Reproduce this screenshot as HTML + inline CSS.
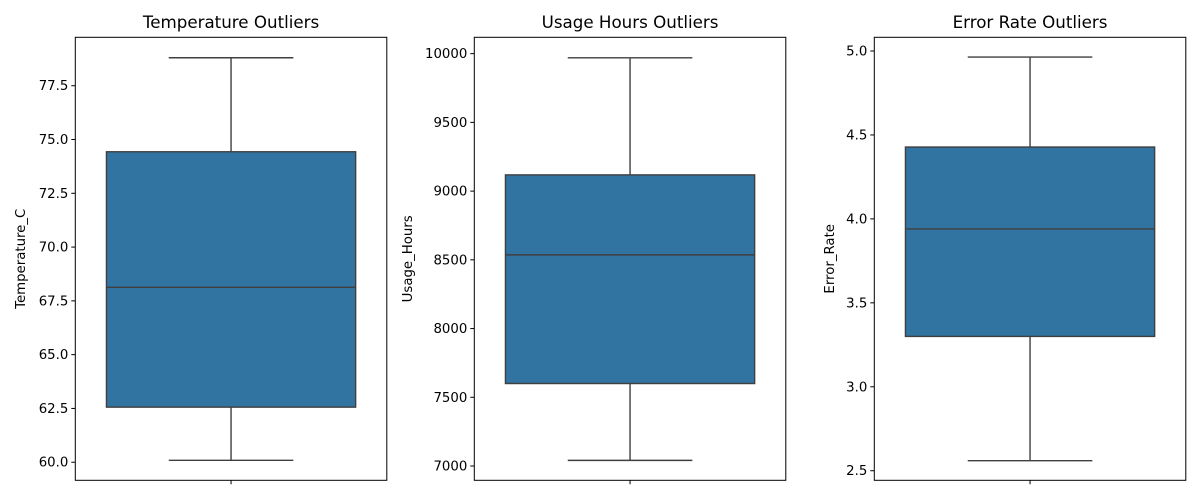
<!DOCTYPE html>
<html><head><meta charset="utf-8"><style>
body{margin:0;background:#fff;}
svg{display:block;font-family:"DejaVu Sans","Liberation Sans",sans-serif;}
</style></head><body>
<svg id="chart" width="1200" height="500"></svg>
<script>
const panelTitles = ["Temperature Outliers", "Usage Hours Outliers", "Error Rate Outliers"];
const yLabels = ["Temperature_C", "Usage_Hours", "Error_Rate"];
const whiskerLow = [60.09, 7041, 2.56];
const q1Values = [62.56, 7600, 3.30];
const medianValues = [68.13, 8536, 3.94];
const q3Values = [74.43, 9118, 4.428];
const whiskerHigh = [78.80, 9970, 4.964];
const yMins = [59.16, 6896, 2.443];
const yMaxs = [79.75, 10119, 5.0816];
const tickSets = [[60,62.5,65,67.5,70,72.5,75,77.5],[7000,7500,8000,8500,9000,9500,10000],[2.5,3.0,3.5,4.0,4.5,5.0]];
const tickLabelSets = [["60.0","62.5","65.0","67.5","70.0","72.5","75.0","77.5"],["7000","7500","8000","8500","9000","9500","10000"],["2.5","3.0","3.5","4.0","4.5","5.0"]];

const svg = document.getElementById('chart');
const NS = 'http://www.w3.org/2000/svg';
const lefts = [75.3, 474.3, 874.3];
const W = 311.5, TOP = 37.3, BOT = 480.3;
function mk(tag, attrs, parent){const e=document.createElementNS(NS,tag);for(const k in attrs)e.setAttribute(k,attrs[k]);(parent||svg).appendChild(e);return e;}

for(let p=0;p<3;p++){
  const L=lefts[p], R=L+W;
  const y=v=>BOT-(v-yMins[p])/(yMaxs[p]-yMins[p])*(BOT-TOP);
  const g=mk('g',{});
  
  
  const cx=(L+R)/2, bw=W*0.8, ww=bw/2;
  const w1=mk('line',{x1:cx,x2:cx,y1:y(whiskerHigh[p]),y2:y(q3Values[p]),stroke:'#3f3f3f','stroke-width':1.4},g);
  
  
  const w2=mk('line',{x1:cx,x2:cx,y1:y(q1Values[p]),y2:y(whiskerLow[p]),stroke:'#3f3f3f','stroke-width':1.4},g);
  
  
  const c1=mk('line',{x1:cx-ww/2,x2:cx+ww/2,y1:y(whiskerHigh[p]),y2:y(whiskerHigh[p]),stroke:'#3f3f3f','stroke-width':1.4},g);
  
  
  const c2=mk('line',{x1:cx-ww/2,x2:cx+ww/2,y1:y(whiskerLow[p]),y2:y(whiskerLow[p]),stroke:'#3f3f3f','stroke-width':1.4},g);
  
  
  const box=mk('rect',{x:cx-bw/2,y:y(q3Values[p]),width:bw,height:y(q1Values[p])-y(q3Values[p]),fill:'#3274a1',stroke:'#3f3f3f','stroke-width':1.4},g);
  
  
  const med=mk('line',{x1:cx-bw/2,x2:cx+bw/2,y1:y(medianValues[p]),y2:y(medianValues[p]),stroke:'#3f3f3f','stroke-width':1.4},g);
  
  
  const frame=mk('rect',{x:L,y:TOP,width:W,height:BOT-TOP,fill:'none',stroke:'#000','stroke-width':1},g);
  
  
  tickSets[p].forEach((t,i)=>{
    const ty=y(t);
    const tk=mk('line',{x1:L-4,x2:L,y1:ty,y2:ty,stroke:'#000','stroke-width':1},g);
    
    
    const tl=mk('text',{x:L-7,y:ty+4.5,'text-anchor':'end','font-size':'13.3px',fill:'#000'},g);
    tl.textContent=tickLabelSets[p][i];
    
    
  });
  const xt=mk('line',{x1:cx,x2:cx,y1:BOT,y2:BOT+4,stroke:'#000','stroke-width':1},g);
  
  
  const title=mk('text',{x:cx,y:28,'text-anchor':'middle','font-size':'16.7px',fill:'#000'},g);
  title.textContent=panelTitles[p];
  
  
  const labX = p===0 ? 25 : (p===1 ? 412 : 834);
  const yl=mk('text',{x:labX,y:(TOP+BOT)/2,'text-anchor':'middle','font-size':'13.3px',fill:'#000',transform:`rotate(-90 ${labX} ${(TOP+BOT)/2})`},g);
  yl.textContent=yLabels[p];
  
  
}
</script>
</body></html>
